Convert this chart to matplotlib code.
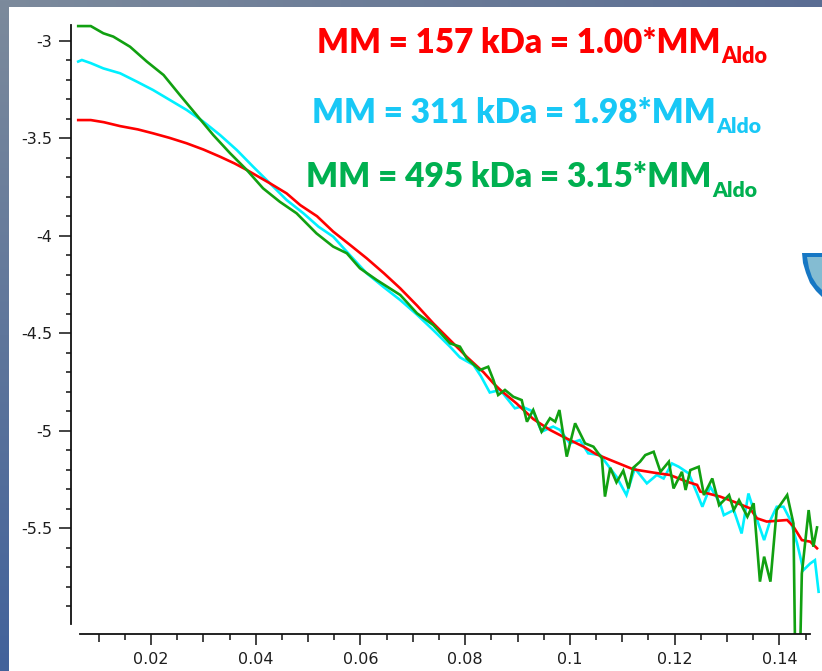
import matplotlib
matplotlib.use('Agg')
import matplotlib.pyplot as plt
import numpy as np
from matplotlib.colors import LinearSegmentedColormap
from matplotlib.patches import Polygon

# ---------------- data ----------------
red_x = [0.0061, 0.0085, 0.0110, 0.0141, 0.0175, 0.0204, 0.0235, 0.0268, 0.0300, 0.0332,
         0.0360, 0.0383, 0.0405, 0.0427, 0.0459, 0.0485, 0.0517, 0.0548, 0.0580, 0.0612,
         0.0645, 0.0676, 0.0708, 0.0739, 0.0771, 0.0803, 0.0835, 0.0854, 0.0867, 0.0898,
         0.0930, 0.0962, 0.0990, 0.1000, 0.1026, 0.1050, 0.1077, 0.1100, 0.1121, 0.1160,
         0.1191, 0.1223, 0.1243, 0.1249, 0.1287, 0.1313, 0.1344, 0.1357, 0.1376, 0.1415,
         0.1427, 0.1443, 0.1459, 0.1472]
red_y = [-3.407, -3.407, -3.418, -3.438, -3.455, -3.475, -3.498, -3.526, -3.558, -3.595,
         -3.630, -3.663, -3.697, -3.731, -3.783, -3.843, -3.900, -3.979, -4.047, -4.116,
         -4.193, -4.270, -4.358, -4.449, -4.535, -4.621, -4.700, -4.757, -4.791, -4.860,
         -4.940, -4.996, -5.035, -5.048, -5.082, -5.120, -5.150, -5.175, -5.198, -5.215,
         -5.227, -5.261, -5.278, -5.312, -5.338, -5.364, -5.398, -5.449, -5.466, -5.458,
         -5.492, -5.561, -5.569, -5.603]

cyan_x = [0.0061, 0.0068, 0.0085, 0.0109, 0.0141, 0.0173, 0.0204, 0.0236, 0.0268, 0.0300,
          0.0332, 0.0364, 0.0395, 0.0427, 0.0459, 0.0491, 0.0520, 0.0548, 0.0580, 0.0612,
          0.0645, 0.0676, 0.0708, 0.0739, 0.0771, 0.0790, 0.0816, 0.0830, 0.0847, 0.0867,
          0.0895, 0.0908, 0.0930, 0.0946, 0.0968, 0.0981, 0.1000, 0.1019, 0.1035, 0.1058,
          0.1070, 0.1089, 0.1108, 0.1124, 0.1147, 0.1166, 0.1179, 0.1195, 0.1208, 0.1227,
          0.1243, 0.1253, 0.1268, 0.1287, 0.1294, 0.1313, 0.1328, 0.1341, 0.1351, 0.1371,
          0.1383, 0.1395, 0.1408, 0.1421, 0.1434, 0.1446, 0.1459, 0.1468, 0.1475]
cyan_y = [-3.107, -3.099, -3.115, -3.142, -3.167, -3.210, -3.253, -3.304, -3.355, -3.415,
          -3.484, -3.561, -3.646, -3.731, -3.817, -3.885, -3.954, -4.005, -4.100, -4.193,
          -4.265, -4.330, -4.405, -4.484, -4.569, -4.624, -4.663, -4.720, -4.804, -4.791,
          -4.885, -4.876, -4.902, -5.005, -4.979, -4.996, -5.065, -5.048, -5.116, -5.125,
          -5.168, -5.236, -5.330, -5.193, -5.270, -5.227, -5.245, -5.168, -5.185, -5.219,
          -5.322, -5.390, -5.287, -5.373, -5.433, -5.407, -5.527, -5.322, -5.407, -5.561,
          -5.458, -5.390, -5.390, -5.458, -5.578, -5.715, -5.681, -5.664, -5.826]

green_x = [0.0061, 0.0085, 0.0109, 0.0128, 0.0160, 0.0192, 0.0224, 0.0255, 0.0287, 0.0319,
           0.0351, 0.0383, 0.0414, 0.0446, 0.0478, 0.0516, 0.0548, 0.0574, 0.0599, 0.0631,
           0.0676, 0.0708, 0.0739, 0.0771, 0.0790, 0.0803, 0.0828, 0.0844, 0.0854, 0.0863,
           0.0876, 0.0892, 0.0908, 0.0918, 0.0930, 0.0946, 0.0962, 0.0972, 0.0980, 0.0988,
           0.0994, 0.1010, 0.1029, 0.1045, 0.1061, 0.1067, 0.1077, 0.1089, 0.1102, 0.1112,
           0.1121, 0.1134, 0.1144, 0.1160, 0.1173, 0.1189, 0.1198, 0.1214, 0.1221, 0.1230,
           0.1246, 0.1256, 0.1272, 0.1285, 0.1304, 0.1313, 0.1323, 0.1339, 0.1351, 0.1363,
           0.1371, 0.1383, 0.1395, 0.1415, 0.1427, 0.1430, 0.1440, 0.1443, 0.1456, 0.1465,
           0.1472]
green_y = [-2.925, -2.925, -2.962, -2.979, -3.031, -3.107, -3.176, -3.278, -3.381, -3.484,
           -3.577, -3.663, -3.757, -3.826, -3.885, -3.988, -4.056, -4.090, -4.167, -4.227,
           -4.304, -4.398, -4.458, -4.552, -4.569, -4.629, -4.689, -4.672, -4.740, -4.817,
           -4.791, -4.826, -4.843, -4.954, -4.894, -5.005, -4.936, -4.954, -4.894, -5.031,
           -5.133, -4.962, -5.065, -5.082, -5.141, -5.338, -5.190, -5.265, -5.205, -5.296,
           -5.190, -5.159, -5.125, -5.108, -5.211, -5.159, -5.296, -5.211, -5.304, -5.202,
           -5.185, -5.330, -5.245, -5.382, -5.330, -5.407, -5.356, -5.441, -5.372, -5.774,
           -5.646, -5.774, -5.407, -5.330, -5.476, -6.100, -6.100, -5.733, -5.407, -5.595,
           -5.496]

x_major = [0.02, 0.04, 0.06, 0.08, 0.10, 0.12, 0.14]
x_major_labels = ['0.02', '0.04', '0.06', '0.08', '0.1', '0.12', '0.14']
y_major = [-3.0, -3.5, -4.0, -4.5, -5.0, -5.5]
y_major_labels = ['-3', '-3.5', '-4', '-4.5', '-5', '-5.5']

label_main = ['MM = 157 kDa = 1.00*MM', 'MM = 311 kDa = 1.98*MM', 'MM = 495 kDa = 3.15*MM']
label_sub = ['Aldo', 'Aldo', 'Aldo']

# ---------------- styling ----------------
line_colors = ['#FF0000', '#00F0FF', '#11A011']
text_colors = ['#FF0000', '#18C8F6', '#00B050']

W, H = 822, 671
fig = plt.figure(figsize=(W / 100, H / 100), dpi=100)
fig.patch.set_facecolor('white')

# background (slide) layer in pixel coordinates
bg = fig.add_axes([0, 0, 1, 1], zorder=0)
bg.axis('off')
cm_top = LinearSegmentedColormap.from_list('top', ['#7c8a9c', '#5a6d93'])
cm_left = LinearSegmentedColormap.from_list('left', ['#7c8a9c', '#42629a'])
bg.imshow(np.linspace(0, 1, 256)[None, :], extent=(0, W, 7, 0), cmap=cm_top, aspect='auto')
bg.imshow(np.linspace(0, 1, 256)[:, None], extent=(0, 8, H, 0), cmap=cm_left, aspect='auto')
# partial logo at right edge
outer = [(802, 253), (822, 253), (822, 297), (816, 291), (810, 283), (806, 273), (803, 263)]
inner = [(807, 257), (822, 257), (822, 290), (817, 285), (812, 277), (809, 268)]
bg.add_patch(Polygon(outer, closed=True, facecolor='#1677c4', edgecolor='none'))
bg.add_patch(Polygon(inner, closed=True, facecolor='#84bcd2', edgecolor='none'))
bg.set_xlim(0, W)
bg.set_ylim(H, 0)

# chart axes
ax_l, ax_r, ax_t, ax_b = 71, 820, 22, 634
ax = fig.add_axes([ax_l / W, (H - ax_b) / H, (ax_r - ax_l) / W, (ax_b - ax_t) / H], zorder=1)
ax.patch.set_alpha(0)
pxx, x0px = 5236.0, 151.0     # px per x unit, px of x=0.02
pxy, y0px = 195.0, 40.7       # px per y unit, px of y=-3
ax.set_xlim(0.02 + (ax_l - x0px) / pxx, 0.02 + (ax_r - x0px) / pxx)
ax.set_ylim(-3 - (ax_b - y0px) / pxy, -3 + (y0px - ax_t) / pxy)

for xs, ys, c in [(cyan_x, cyan_y, line_colors[1]), (red_x, red_y, line_colors[0]),
                  (green_x, green_y, line_colors[2])]:
    ax.plot(xs, ys, color=c, lw=1.9, solid_joinstyle='miter')

for s in ['top', 'right']:
    ax.spines[s].set_visible(False)
for s in ['left', 'bottom']:
    ax.spines[s].set_linewidth(1.3)
    ax.spines[s].set_color('#111111')
ax.spines['left'].set_bounds(-5.99, -3 + (y0px - 25) / pxy)
ax.spines['bottom'].set_bounds(0.0064, 0.1459)

ax.set_xticks(x_major, x_major_labels)
ax.set_yticks(y_major, y_major_labels)
xmin_t = [v for v in np.round(np.arange(0.01, 0.1451, 0.005), 4)
          if abs(round(v / 0.01) * 0.01 - v) > 1e-6]
ax.set_xticks(xmin_t, minor=True)
ymin_t = [v for v in np.round(np.arange(-5.9, -2.95, 0.1), 2) if abs(v * 2 - round(v * 2)) > 1e-6]
ax.set_yticks(ymin_t, minor=True)

tick_col = '#111111'
ax.tick_params(axis='x', which='major', length=7.6, width=1.1, color=tick_col, pad=5,
               labelsize=11.5, labelcolor='#1e1e1e')
ax.tick_params(axis='x', which='minor', length=4.1, width=1.1, color=tick_col)
ax.tick_params(axis='y', which='major', length=8.4, width=1.1, color=tick_col, pad=5,
               labelsize=11.5, labelcolor='#1e1e1e')
ax.tick_params(axis='y', which='minor', length=3.8, width=1.1, color=tick_col)

sec = ax.secondary_xaxis('bottom')
sec.set_xticks([0.01, 0.03, 0.05, 0.07, 0.09, 0.11, 0.13])
sec.tick_params(length=5.8, width=1.1, color=tick_col, labelbottom=False)
sec.spines['bottom'].set_visible(False)

# ---------------- annotations ----------------
main_pos = [(316.7, 52.7, 716.7), (311.7, 122.7, 712.7), (306.0, 186.7, 708.3)]
sub_w = [46, 45, 45]
fig.canvas.draw()
renderer = fig.canvas.get_renderer()
for i in range(3):
    x, yb, xr = main_pos[i]
    t = bg.text(x, yb, label_main[i], color=text_colors[i], fontsize=24,
                fontfamily='Lato', fontweight='heavy', ha='left', va='baseline', zorder=5)
    w = t.get_window_extent(renderer).width
    t.set_fontsize(24 * (xr - x) / w * 1.01)
    ext = t.get_window_extent(renderer)
    s = bg.text(ext.x1 + 1, yb + 10.6, label_sub[i], color=text_colors[i], fontsize=16,
                fontfamily='Lato', fontweight='heavy', ha='left', va='baseline', zorder=5)
    ws = s.get_window_extent(renderer).width
    s.set_fontsize(16 * sub_w[i] / ws)

fig.savefig('out.png', dpi=100, facecolor=fig.get_facecolor())
